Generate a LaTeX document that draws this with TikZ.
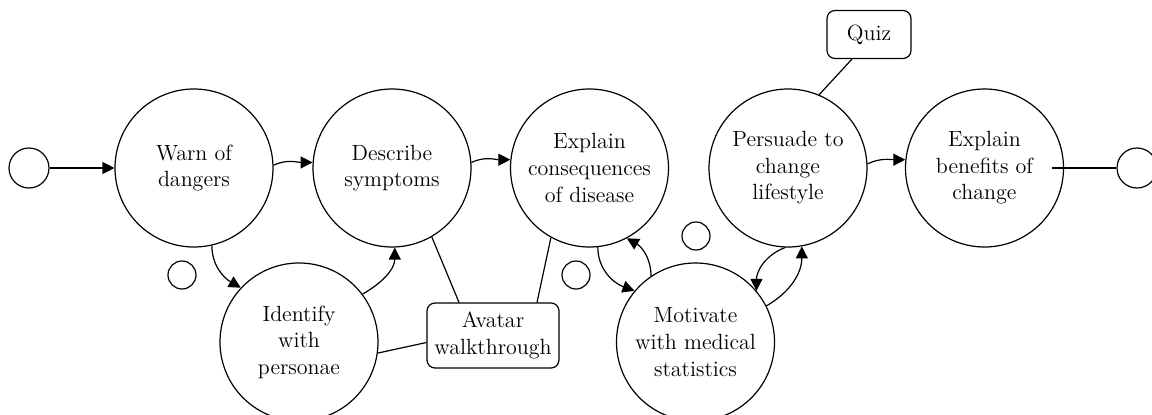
\documentclass[tikz,border=0pt]{standalone}
\usetikzlibrary{arrows.meta}

\begin{document}
\begin{tikzpicture}[x=0.5pt,y=0.5pt,line width=0.6pt,
    stage/.style={draw,circle,minimum size=79pt,inner sep=0pt,align=center,font=\fontsize{11}{13.3}\selectfont},
    gap/.style={draw,circle,minimum size=14pt,inner sep=0pt},
    term/.style={draw,circle,minimum size=20pt,inner sep=0pt},
    aid/.style={draw,rounded corners=4pt,inner sep=0pt,align=center,font=\fontsize{11}{13.3}\selectfont},
    flow/.style={-{Triangle[length=6pt,width=6pt]}}]
        \useasboundingbox (0,0) rectangle (1152,414);
        \node[term] (start) at (29,246) {};
        \node[stage] (warn) at (194,246) {Warn of\\dangers};
        \node[stage] (describe) at (392,246) {Describe\\symptoms};
        \node[stage] (explain) at (589.5,246) {Explain\\consequences\\of disease};
        \node[stage] (persuade) at (788,246) {Persuade to\\change\\lifestyle};
        \node[stage] (benefits) at (984.5,246) {Explain\\benefits of\\change};
        \node[term] (end) at (1137,246) {};
        \node[stage] (identify) at (299,72) {Identify\\with\\personae};
        \node[stage] (motivate) at (695.5,72) {Motivate\\with medical\\statistics};
        \node[gap] (gapa) at (182,139) {};
        \node[gap] (gapb) at (576,139) {};
        \node[gap] (gapc) at (696,178) {};
        \node[aid,minimum width=42pt,minimum height=24pt] (quiz) at (869,379.5) {Quiz};
        \node[aid,minimum width=66pt,minimum height=32.5pt] (avatar) at (493,78.5) {Avatar\\walkthrough};
        \draw[flow] (start) -- (warn);
        \draw[flow] (warn.2) to[out=25,in=180] (describe.176);
        \draw[flow] (describe.4) to[out=25,in=180] (explain.174);
        \draw[flow] (persuade.3) to[out=25,in=180] (benefits.174);
        \draw[flow] (warn.-77) to[out=-90,in=150] (identify.137);
        \draw[flow] (identify.37) to[out=30,in=-90] (describe.-88);
        \draw[flow] (explain.-84) to[out=-90,in=160] (motivate.140);
        \draw[flow] (motivate.124) to[out=90,in=-30] (explain.-62);
        \draw[flow] (persuade.-92) to[out=200,in=90] (motivate.40);
        \draw[flow] (motivate.27) to[out=30,in=-90] (persuade.-80);
        \draw (end.west) -- ([xshift=-6pt]benefits.east);
        \draw ([xshift=-8.5pt]quiz.south) -- (persuade.67);
        \draw ([xshift=-17pt]avatar.north) -- (describe.-60);
        \draw ([xshift=22pt]avatar.north) -- (explain.-119);
        \draw ([yshift=-3.5pt]avatar.west) -- (identify.-8);
    \end{tikzpicture}
\end{document}
